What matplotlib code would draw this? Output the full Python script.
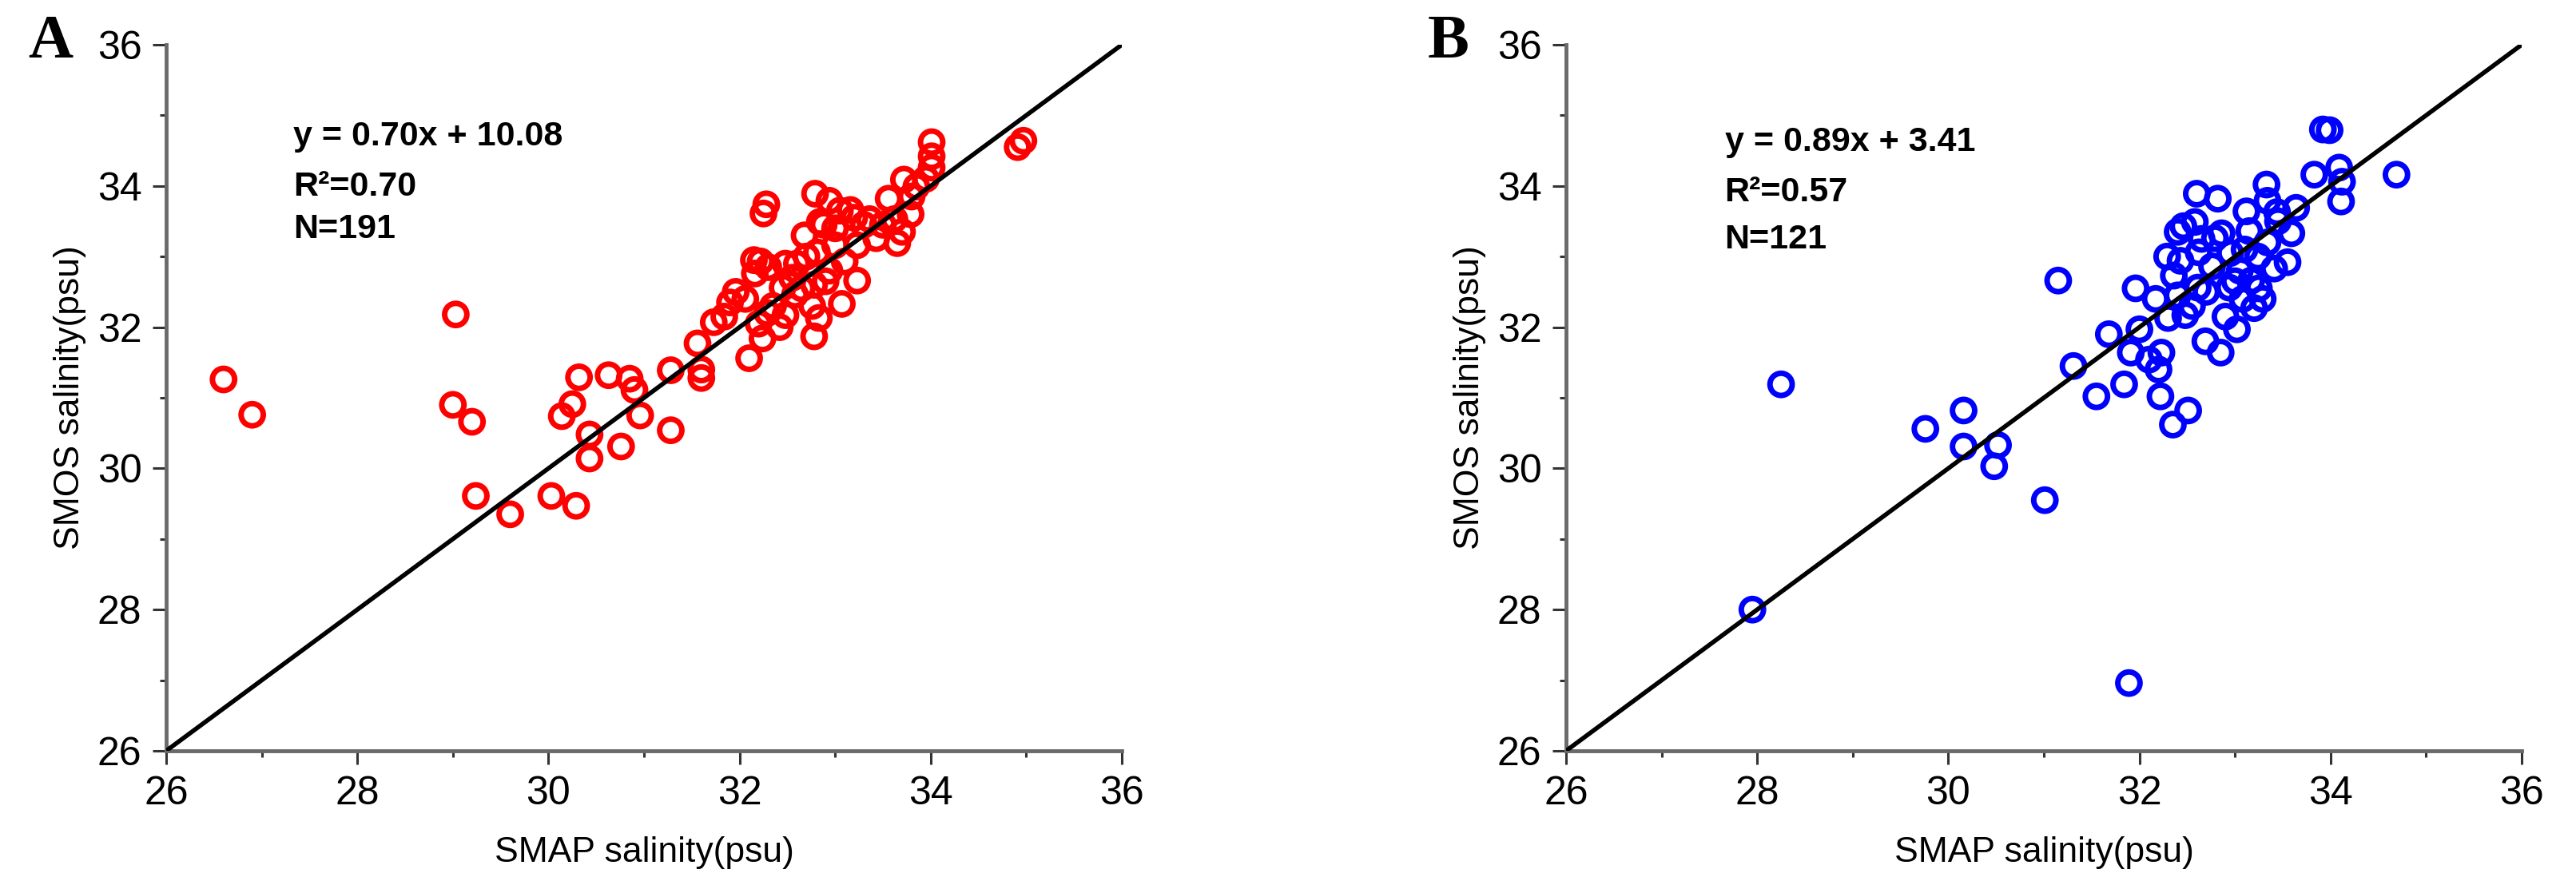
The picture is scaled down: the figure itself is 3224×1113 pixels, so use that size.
import matplotlib
matplotlib.use("Agg")
import matplotlib.pyplot as plt
from matplotlib.ticker import MultipleLocator

plt.rcParams['font.family'] = ['Liberation Sans', 'DejaVu Sans']

# panel A: SMAP vs SMOS (red)
smap_a = [26.60, 26.90, 29.03, 29.00, 29.20, 29.24, 29.60, 30.03, 30.29, 30.14,
          30.25, 30.32, 30.43, 30.43, 30.63, 30.76, 30.85, 30.90, 30.96, 31.28,
          31.28, 31.56, 31.60, 31.60, 31.73, 31.84, 32.10, 32.24, 32.28, 32.25,
          31.96, 32.06, 32.16, 32.22, 32.29, 32.42, 32.48, 32.48, 32.45, 32.58,
          32.68, 32.76, 32.78, 32.79, 32.83, 32.78, 32.81, 32.84, 32.94, 32.94,
          33.00, 33.00, 33.07, 33.10, 33.16, 33.23, 33.23, 33.36, 33.43, 33.56,
          33.62, 33.65, 33.72, 33.79, 33.85, 34.01, 34.01, 34.01, 34.91, 34.97,
          32.15, 32.30, 32.55, 32.65, 32.88, 33.05, 33.20, 33.30, 33.50, 33.70,
          33.80, 33.95, 32.70, 32.60, 32.90, 31.90, 32.35, 32.20]
smos_a = [31.26, 30.76, 32.18, 30.90, 30.66, 29.61, 29.35, 29.61, 29.47, 30.74,
          30.91, 31.29, 30.48, 30.14, 31.32, 30.31, 31.27, 31.11, 30.75, 31.39,
          30.54, 31.77, 31.40, 31.28, 32.07, 32.15, 31.56, 31.84, 33.74, 33.61,
          32.50, 32.40, 32.76, 32.93, 32.20, 32.00, 32.17, 32.90, 32.56, 32.46,
          33.30, 32.30, 31.87, 33.89, 32.13, 32.60, 33.06, 33.49, 33.79, 32.80,
          33.40, 33.16, 32.33, 32.93, 33.66, 32.66, 33.16, 33.53, 33.26, 33.82,
          33.53, 33.19, 34.09, 33.60, 33.99, 34.62, 34.42, 34.26, 34.55, 34.64,
          32.95, 32.85, 32.70, 32.55, 33.45, 33.65, 33.55, 33.45, 33.45, 33.35,
          33.85, 34.10, 33.00, 32.90, 32.65, 32.35, 32.30, 32.05]

# panel B: SMAP vs SMOS (blue)
smap_b = [27.95, 28.25, 31.89, 29.76, 30.16, 30.16, 30.52, 30.48, 31.01, 31.15,
          31.31, 31.55, 31.68, 31.84, 31.91, 31.96, 32.00, 32.10, 32.20, 32.22,
          32.23, 32.17, 32.35, 32.51, 32.30, 32.29, 32.43, 32.36, 32.48, 32.46,
          32.58, 32.60, 32.62, 32.61, 32.69, 32.82, 32.85, 32.79, 32.86, 32.90,
          32.94, 33.02, 33.05, 33.08, 33.12, 33.15, 33.20, 33.24, 33.29, 33.33,
          33.34, 33.41, 33.44, 33.55, 33.59, 33.64, 33.83, 33.92, 33.99, 34.09,
          34.12, 34.11, 34.69, 33.34, 33.17, 32.76, 32.40, 32.55, 32.70, 32.95,
          33.10, 33.00, 32.65, 33.45, 33.25, 32.40]
smos_b = [28.00, 31.19, 26.96, 30.56, 30.82, 30.31, 30.33, 30.03, 29.55, 32.66,
          31.45, 31.02, 31.90, 31.19, 31.64, 32.55, 31.97, 31.54, 31.40, 31.02,
          31.64, 32.40, 30.62, 30.82, 32.13, 33.00, 32.94, 32.73, 32.17, 33.43,
          33.49, 33.89, 33.06, 32.56, 31.80, 33.82, 31.64, 33.26, 33.33, 32.15,
          32.56, 31.97, 32.80, 32.40, 33.64, 33.36, 32.27, 33.00, 32.40, 34.02,
          33.79, 32.83, 33.63, 32.92, 33.33, 33.69, 34.16, 34.80, 34.79, 34.26,
          34.06, 33.78, 34.16, 33.20, 32.66, 32.86, 32.45, 32.30, 32.50, 33.05,
          33.10, 32.65, 33.25, 33.50, 32.55, 33.35]

one_to_one = [26, 36]
ticks = [26, 28, 30, 32, 34, 36]
stats_a = ["y = 0.70x + 10.08", "R\u00b2=0.70", "N=191"]
stats_b = ["y = 0.89x + 3.41", "R\u00b2=0.57", "N=121"]

W, H = 3224, 1113
fig = plt.figure(figsize=(W / 100, H / 100), dpi=100)

spine_c = '#6a6a6a'


def panel(left, xs, ys, color, stats, tx, ty):
    ax = fig.add_axes([left / W, 1 - 940 / H, 1196 / W, 884 / H])
    ax.scatter(xs, ys, s=20 ** 2, facecolors='none', edgecolors=color,
               linewidths=5, zorder=2)
    ax.plot(one_to_one, one_to_one, color='black', lw=4, zorder=3)
    ax.set_xlim(26, 36)
    ax.set_ylim(26, 36)
    ax.set_xticks(ticks)
    ax.set_yticks(ticks)
    ax.xaxis.set_minor_locator(MultipleLocator(1))
    ax.yaxis.set_minor_locator(MultipleLocator(1))
    for s in ['top', 'right']:
        ax.spines[s].set_visible(False)
    for s in ['left', 'bottom']:
        ax.spines[s].set_color(spine_c)
        ax.spines[s].set_linewidth(3.5)
    ax.tick_params(which='major', length=12, width=2.2, color='#333333',
                   labelsize=36, pad=10)
    ax.tick_params(which='minor', length=6, width=2.2, color='#333333')
    ax.set_xlabel("SMAP salinity(psu)", fontsize=32, labelpad=22)
    ax.set_ylabel("SMOS salinity(psu)", fontsize=32, labelpad=10)
    for txt, yy in zip(stats, ty):
        ax.text(tx, yy, txt, fontsize=31, fontweight='bold', ha='left',
                va='baseline')
    return ax


panel(208, smap_a, smos_a, 'red', stats_a, 27.33, [34.57, 33.86, 33.26])
panel(1960, smap_b, smos_b, 'blue', stats_b, 27.66, [34.49, 33.78, 33.12])

fig.text(35 / W, 1 - 72 / H, "A", fontsize=56, fontweight='bold',
         family=['Liberation Serif'], va='baseline')
fig.text(1787 / W, 1 - 72 / H, "B", fontsize=56, fontweight='bold',
         family=['Liberation Serif'], va='baseline')

fig.savefig("out.png", dpi=100)
